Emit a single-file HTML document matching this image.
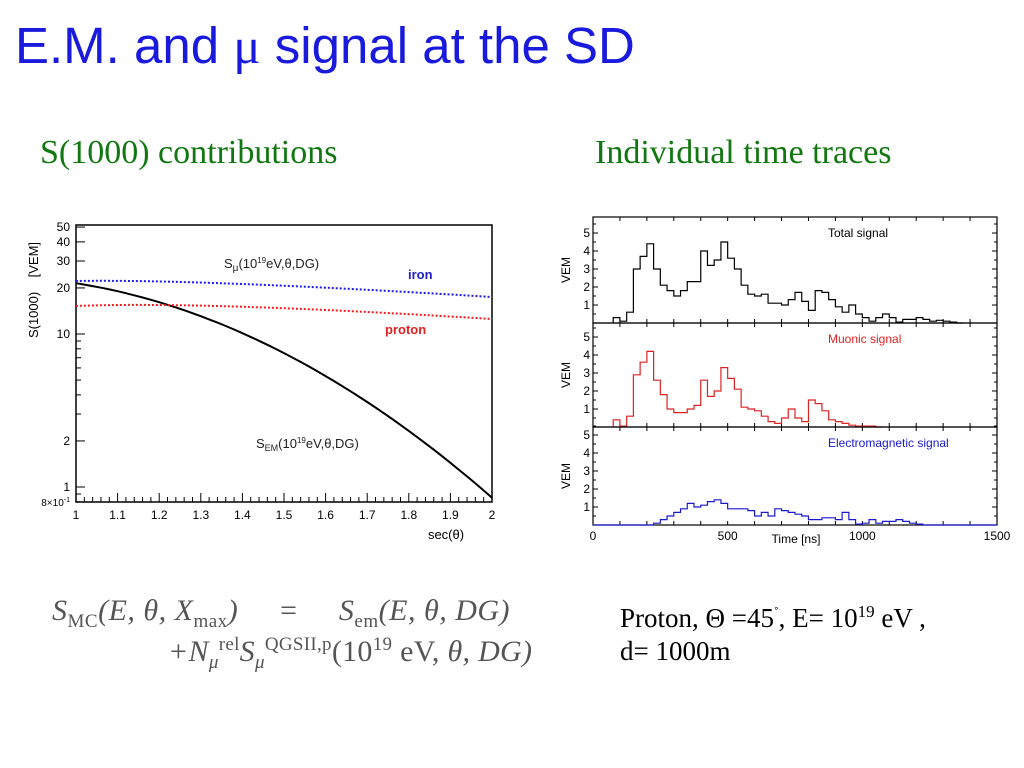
<!DOCTYPE html>
<html><head><meta charset="utf-8"><style>
body{margin:0;width:1024px;height:768px;background:#fff;overflow:hidden;position:relative;font-family:"Liberation Sans",sans-serif}
.t{position:absolute;white-space:nowrap}
</style></head><body>
<div class="t" style="left:15px;top:16px;font-size:51px;color:#1a1adc">E.M. and <span style="font-family:'Liberation Serif',serif">μ</span> signal at the SD</div>
<div class="t" style="left:40px;top:134px;font-size:34px;color:#117711;font-family:'Liberation Serif',serif">S(1000) contributions</div>
<div class="t" style="left:595px;top:134px;font-size:34px;color:#117711;font-family:'Liberation Serif',serif">Individual time traces</div>
<div class="t" style="left:52px;top:594px;font-size:30px;color:#555;font-family:'Liberation Serif',serif;font-style:italic;letter-spacing:0.5px">S<sub style="font-style:normal;font-size:19px">MC</sub>(E, θ, X<sub style="font-style:normal;font-size:19px">max</sub>) &nbsp;&nbsp;&nbsp;&nbsp;=&nbsp;&nbsp;&nbsp;&nbsp; S<sub style="font-style:normal;font-size:19px">em</sub>(E, θ, DG)</div>
<div class="t" style="left:168px;top:634px;font-size:30px;color:#555;font-family:'Liberation Serif',serif;font-style:italic;letter-spacing:0.3px">+N<sub style="font-size:19px">μ</sub><sup style="font-style:normal;font-size:19px">rel</sup>S<sub style="font-size:19px">μ</sub><sup style="font-style:normal;font-size:19px">QGSII,p</sup><span style="font-style:normal">(10<sup style="font-size:19px">19</sup> eV,</span> θ, DG)</div>
<div class="t" style="left:620px;top:602px;font-size:27px;color:#000;font-family:'Liberation Serif',serif">Proton, Θ =45<sup style="font-size:14px">˚</sup>, E= 10<sup style="font-size:17px">19</sup> eV ,</div>
<div class="t" style="left:620px;top:636px;font-size:27px;color:#000;font-family:'Liberation Serif',serif">d= 1000m</div>
<svg id="s" width="1024" height="768" style="position:absolute;left:0;top:0" font-family="Liberation Sans, sans-serif"></svg>
<script>
var s=document.getElementById('s'),h='';
function ln(x1,y1,x2,y2,c,w,d){h+='<line x1="'+x1+'" y1="'+y1+'" x2="'+x2+'" y2="'+y2+'" stroke="'+(c||'#000')+'" stroke-width="'+(w||1)+'"'+(d?' stroke-dasharray="'+d+'"':'')+'/>';}
function tx(x,y,t,sz,c,a,extra){h+='<text x="'+x+'" y="'+y+'" font-size="'+sz+'" fill="'+(c||'#000')+'" text-anchor="'+(a||'start')+'" '+(extra||'')+'>'+t+'</text>';}
var L=76,R=492,T=225,B=502;
function Y(v){return 487-153*Math.log10(v);}
function X(v){return L+(v-1)*(R-L);}
h+='<rect x="'+L+'" y="'+T+'" width="'+(R-L)+'" height="'+(B-T)+'" fill="none" stroke="#000" stroke-width="1.5"/>';
for(var i=0;i<=50;i++){var x=X(1+i*0.02);ln(x,B,x,B-(i%5?5:9));}
for(var i=0;i<=10;i++){tx(X(1+i*0.1),519,i==0?'1':i==10?'2':(1+i/10).toFixed(1),12,'#000','middle');}
var ys=[0.8,0.9,1,2,3,4,5,6,7,8,9,10,20,30,40,50];
ys.forEach(function(v){var y=Y(v),maj=[1,10,2,20,30,40,50].indexOf(v)>=0;ln(L,y,L+(maj?9:5),y);});
[[50,'50'],[40,'40'],[30,'30'],[20,'20'],[10,'10'],[2,'2'],[1,'1']].forEach(function(p){tx(L-6,Y(p[0])+4,p[1],12,'#000','end');});
tx(L-6,Y(0.8)+4,'8×10<tspan dy="-4" font-size="7">-1</tspan>',10,'#000','end');
tx(446,539,'sec(θ)',13,'#000','middle');
tx(38,290,'S(1000)&#160;&#160;&#160;&#160;[VEM]',13,'#000','middle','transform="rotate(-90 38 290)"');
var d='';for(var i=0;i<=50;i++){var u=i/50,lv=1.332-0.426*u-0.976*u*u;d+=(i?' L':'M')+X(1+u).toFixed(1)+','+(487-153*lv).toFixed(1);}
h+='<path d="'+d+'" fill="none" stroke="#000" stroke-width="2"/>';
h+='<path d="M76,281 Q200,279 492,297" fill="none" stroke="#1a1aee" stroke-width="2" stroke-dasharray="2,2"/>';
h+='<path d="M76,306 Q200,301 492,319" fill="none" stroke="#ee1a1a" stroke-width="2" stroke-dasharray="2,2"/>';
tx(224,268,'S<tspan font-size="10" dy="3">μ</tspan><tspan dy="-3">(10</tspan><tspan font-size="8" dy="-5">19</tspan><tspan dy="5">eV,θ,DG)</tspan>',13,'#222');
tx(408,279,'iron',13,'#2222cc','start','font-weight="bold"');
tx(385,334,'proton',13,'#dd2222','start','font-weight="bold"');
tx(256,448,'S<tspan font-size="9" dy="3">EM</tspan><tspan dy="-3">(10</tspan><tspan font-size="8" dy="-5">19</tspan><tspan dy="5">eV,θ,DG)</tspan>',13,'#222');
var RL=593,RR=997;
function TX(t){return RL+t*(RR-RL)/1500;}
var panels=[[217,323,'#000','Total signal',[.3,.1,.6,3,3.7,4.4,3,2.1,1.8,1.5,1.8,2.3,2.3,4,3.2,3.5,4.5,3.6,3,2.1,1.6,1.5,1.6,1.1,1.1,1,1.3,1.7,1.2,.7,1.8,1.7,1.3,.9,.6,1,.5,.3,.1,.3,.5,.3,.05,.2,.2,.3,.2,.1,.15,.1,.05,0]],
[323,427,'#dd2222','Muonic signal',[.4,.05,.6,2.9,3.6,4.2,2.6,1.8,1,.8,.8,1,1.2,2.6,1.7,2,3.3,2.7,2.1,1.1,1,.9,.6,.3,.2,.5,1,.5,.3,1.5,1.3,.9,.4,.3,.2,.1,.05,.05,.05,0]],
[427,525,'#1a1acc','Electromagnetic signal',[0,0,0,0,0,.1,.3,.5,.7,.9,1.2,1,1.1,1.3,1.4,1.2,.9,.9,.9,.8,.5,.7,.5,.9,.8,.7,.6,.5,.3,.3,.4,.4,.3,.7,.3,.05,.1,.3,.1,.2,.2,.3,.2,.1,.05,0]]];
panels.forEach(function(p,k){var t=p[0],b=p[1],sc=18;
 h+='<rect x="'+RL+'" y="'+t+'" width="'+(RR-RL)+'" height="'+(b-t)+'" fill="none" stroke="#000" stroke-width="1.2"/>';
 for(var v=1;v<=5;v++){var y=b-v*sc;ln(RL,y,RL+5,y);ln(RR,y,RR-5,y);tx(RL-3,y+4,v,12,'#000','end');}
 for(var v=0.5;v<6;v++){var y=b-v*sc;ln(RL,y,RL+3,y);ln(RR,y,RR-3,y);}
 for(var q=100;q<1500;q+=100){ln(TX(q),b,TX(q),b-4);ln(TX(q),t,TX(q),t+4);}
 tx(570,(t+b)/2,'VEM',12,'#000','middle','transform="rotate(-90 570 '+((t+b)/2)+')"');
 tx(828,t+20,p[3],12,p[2]);
 var v=p[4],st=k==2?0:75,d='M'+TX(st)+','+b;
 if(k==2){d='M'+RL+','+b;st=100;}
 for(var i=0;i<v.length;i++){var x0=TX(st+i*25),x1=TX(st+i*25+25),y=b-v[i]*sc;d+=' L'+x0+','+y+' L'+x1+','+y;}
 d+=' L'+TX(st+v.length*25)+','+b;
 if(k==2)d+=' L'+RR+','+b;
 h+='<path d="'+d+'" fill="none" stroke="'+p[2]+'" stroke-width="1.2"/>';
});
[[0,'0'],[500,'500'],[1000,'1000'],[1500,'1500']].forEach(function(p){tx(TX(p[0]),540,p[1],12,'#000','middle');});
tx(796,543,'Time [ns]',12,'#000','middle');
s.innerHTML=h;
</script>
</body></html>
